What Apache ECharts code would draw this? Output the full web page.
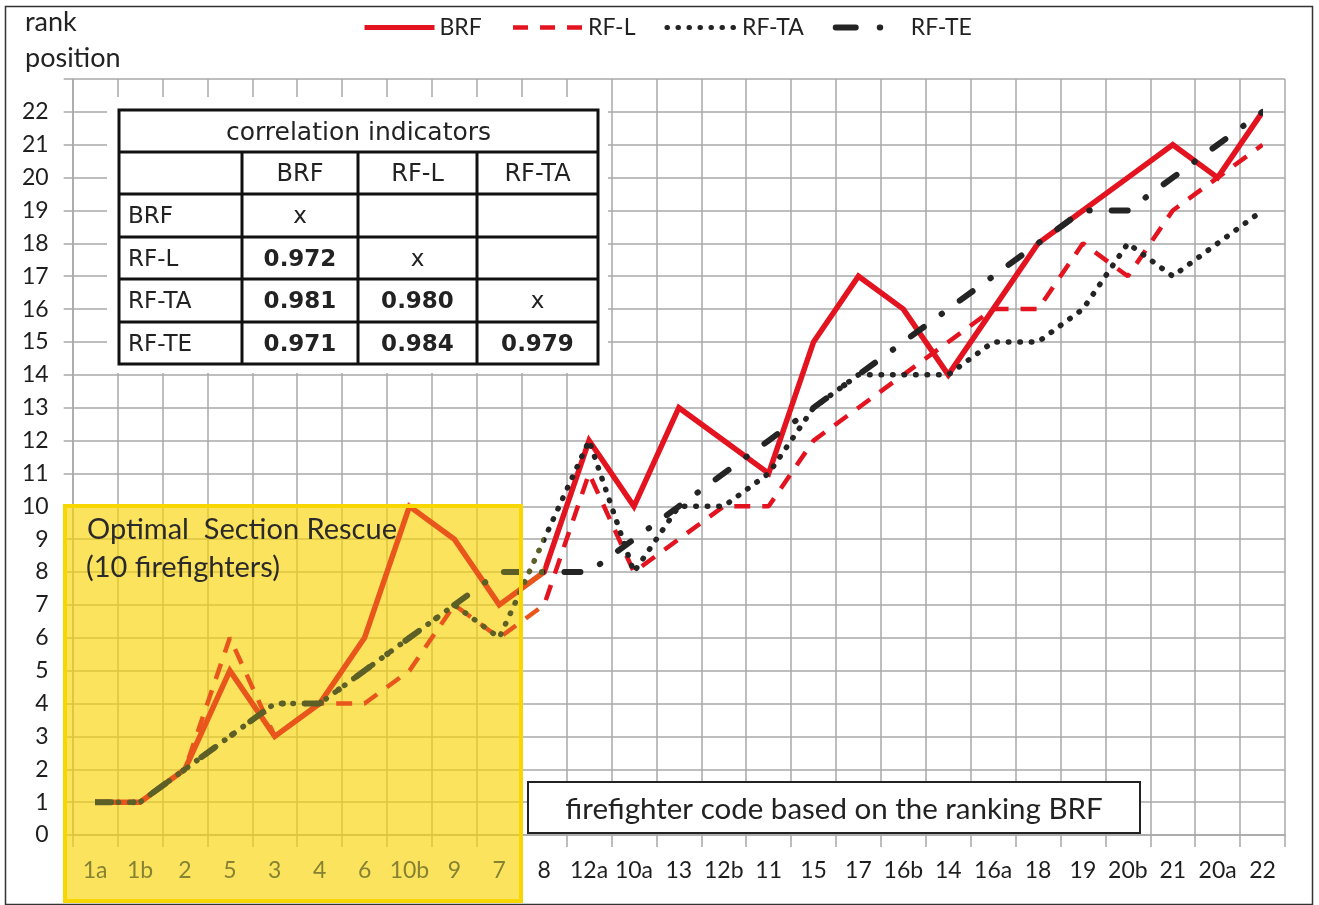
<!DOCTYPE html>
<html>
<head>
<meta charset="utf-8">
<script src="https://cdn.jsdelivr.net/npm/echarts@6/dist/echarts.min.js"></script>
<style>
html,body{margin:0;padding:0;background:#fff;}
#c{width:1319px;height:905px;}
</style>
</head>
<body>
<div id="c"></div>
<script>
// ---- data ----
const categories = ['1a','1b','2','5','3','4','6','10b','9','7','8','12a','10a','13','12b','11','15','17','16b','14','16a','18','19','20b','21','20a','22'];
const brf  = [1,1,2,5,3,4,6,10,9,7,8,12,10,13,12,11,15,17,16,14,16,18,19,20,21,20,22];
const rfL  = [1,1,2,6,3,4,4,5,7,6,7,11,8,9,10,10,12,13,14,15,16,16,18,17,19,20,21];
const rfTA = [1,1,2,3,4,4,5,6,7,6,9,12,8,10,10,11,13,14,14,14,15,15,16,18,17,18,19];
const rfTE = [1,1,2,3,4,4,5,6,7,8,8,8,9,10,11,12,13,14,15,16,17,18,19,19,20,21,22];
const seriesNames = ['BRF','RF-L','RF-TA','RF-TE'];
const yMin = 0, yMax = 23, yStep = 1;
const optimalCount = 10; // first 10 firefighters highlighted
const tableTitle = 'correlation indicators';
const tableHeader = ['', 'BRF', 'RF-L', 'RF-TA'];
const tableRows = [
  ['BRF',   'x',     '',      ''],
  ['RF-L',  '0.972', 'x',     ''],
  ['RF-TA', '0.981', '0.980', 'x'],
  ['RF-TE', '0.971', '0.984', '0.979']
];
const yAxisTitle = ['rank', 'position'];
const xAxisTitle = 'firefighter code based on the ranking BRF';
const boxTitle = ['Optimal  Section Rescue', '(10 firefighters)'];

// ---- styles ----
const FONT = 'Lato';
const TFONT = 'DejaVu Sans';
const RED = '#e3131f', ORANGE = '#e9561c', BLACK = '#242424', OLIVE = '#5c5f26';
const GRID = '#a8a8a8';

const chart = echarts.init(document.getElementById('c'), null, {renderer:'canvas'});

function vm(idx, inside, outside){
  return {type:'piecewise', show:false, seriesIndex:idx, dimension:0,
    pieces:[{gte:0, lt: optimalCount - 0.5, color: inside},{gte: optimalCount - 0.5, lte: categories.length - 1, color: outside}]};
}

// table graphic
const colX = [119, 242, 358, 477, 598];
const rowY = [110, 152, 194, 237, 279, 322, 364];
const tableEls = [];
tableEls.push({type:'rect', shape:{x:107,y:97,width:501,height:276}, style:{fill:'#fff'}, z:9});
tableEls.push({type:'rect', shape:{x:colX[0],y:rowY[0],width:colX[4]-colX[0],height:rowY[6]-rowY[0]}, style:{fill:'#fff',stroke:'#111',lineWidth:3}, z:10});
for (let r=1;r<rowY.length-1;r++) tableEls.push({type:'line', shape:{x1:colX[0],y1:rowY[r],x2:colX[4],y2:rowY[r]}, style:{stroke:'#111',lineWidth:3}, z:10});
for (let c=1;c<colX.length-1;c++) tableEls.push({type:'line', shape:{x1:colX[c],y1:rowY[1],x2:colX[c],y2:rowY[6]}, style:{stroke:'#111',lineWidth:3}, z:10});
tableEls.push({type:'text', x:(colX[0]+colX[4])/2, y:(rowY[0]+rowY[1])/2+2, style:{text:tableTitle, font:'25px '+TFONT, fill:'#222', align:'center', verticalAlign:'middle'}, z:11});
tableHeader.forEach((t,c)=>{ if(t) tableEls.push({type:'text', x:(colX[c]+colX[c+1])/2, y:(rowY[1]+rowY[2])/2+2, style:{text:t, font:'24px '+TFONT, fill:'#222', align:'center', verticalAlign:'middle'}, z:11}); });
tableRows.forEach((row,r)=>{
  row.forEach((t,c)=>{
    if(!t) return;
    const yc = (rowY[r+2]+rowY[r+3])/2+2;
    if(c===0) tableEls.push({type:'text', x:colX[0]+9, y:yc, style:{text:t, font:'23px '+TFONT, fill:'#222', align:'left', verticalAlign:'middle'}, z:11});
    else tableEls.push({type:'text', x:(colX[c]+colX[c+1])/2, y:yc, style:{text:t, font:(t==='x'?'':'bold ')+'23px '+TFONT, fill:'#222', align:'center', verticalAlign:'middle'}, z:11});
  });
});

const hiddenSym = {color:'rgba(0,0,0,0)', opacity:0, borderWidth:0};
const option = {
  animation:false,
  backgroundColor:'#fff',
  textStyle:{fontFamily:FONT},
  grid:{left:72.7, right:34, top:79, bottom:70, containLabel:false},
  legend:{
    top:11, left:357, itemWidth:70, itemHeight:20, itemGap:29,
    textStyle:{fontSize:23, color:'#222', fontFamily:FONT},
    data:[
      {name:'BRF', lineStyle:{color:RED,width:5,type:'solid'}, itemStyle:hiddenSym},
      {name:'RF-L', lineStyle:{color:RED,width:4.5,type:[15,12]}, itemStyle:hiddenSym},
      {name:'RF-TA', lineStyle:{color:BLACK,width:5,type:[0.5,10.5],cap:'round'}, itemStyle:hiddenSym},
      {name:'RF-TE', lineStyle:{color:BLACK,width:6,type:[20,24,0.5,40],cap:'round'}, itemStyle:hiddenSym}
    ]
  },
  visualMap:[
    vm(0, ORANGE, RED), vm(1, ORANGE, RED), vm(2, OLIVE, BLACK), vm(3, OLIVE, BLACK)
  ],
  xAxis:[{
    type:'category', data:categories, boundaryGap:true, z:0,
    axisLine:{show:true, lineStyle:{color:GRID, width:1.5}},
    axisTick:{show:true, interval:0, length:12, lineStyle:{color:GRID, width:1.5}},
    axisLabel:{show:false},
    splitLine:{show:true, interval:0, lineStyle:{color:GRID, width:1.5}}
  },{
    type:'category', data:categories, boundaryGap:true, position:'bottom', z:6,
    axisLine:{show:false}, axisTick:{show:false}, splitLine:{show:false},
    axisLabel:{show:true, interval:0, margin:24, fontSize:23, fontFamily:FONT,
      color:function(v, i){ return categories.indexOf(v) < optimalCount ? '#858232' : '#1e1e1e'; }}
  }],
  yAxis:{
    type:'value', min:yMin, max:yMax, interval:yStep, z:0,
    axisLine:{show:true, lineStyle:{color:GRID, width:1.5}},
    axisTick:{show:true, length:9, lineStyle:{color:GRID, width:1.5}},
    axisLabel:{margin:24, fontSize:23, color:'#1e1e1e', fontFamily:FONT,
      formatter:function(v){ return v===yMax ? '' : String(v); }},
    splitLine:{show:true, lineStyle:{color:GRID, width:1.5}}
  },
  series:[
    {name:'BRF', type:'line', data:brf, symbol:'none', z:3,
      lineStyle:{width:5.5, join:'miter'}},
    {name:'RF-L', type:'line', data:rfL, symbol:'none', z:3,
      lineStyle:{width:4.5, type:[16,12]}},
    {name:'RF-TA', type:'line', data:rfTA, symbol:'none', z:3,
      lineStyle:{width:5.5, type:[0.5,11], cap:'round'}},
    {name:'RF-TE', type:'line', data:rfTE, symbol:'none', z:3,
      lineStyle:{width:6, type:[16,22,0.5,22], cap:'round'}}
  ],
  graphic:[
    {type:'rect', shape:{x:5.5,y:6.5,width:1307,height:898}, style:{fill:'none', stroke:'#333', lineWidth:1.5}, z:20, silent:true},
    {type:'text', x:25, y:22, style:{text:yAxisTitle[0], font:'27px '+FONT, fill:'#222', verticalAlign:'middle'}, z:20},
    {type:'text', x:25, y:58, style:{text:yAxisTitle[1], font:'27px '+FONT, fill:'#222', verticalAlign:'middle'}, z:20},
    {type:'rect', shape:{x:65,y:506,width:456,height:395}, style:{fill:'rgba(250,212,7,0.65)'}, z:1, silent:true},
    {type:'rect', shape:{x:65,y:506,width:456,height:395}, style:{fill:'none', stroke:'#f8d600', lineWidth:4}, z:12, silent:true},
    {type:'text', x:87, y:530, style:{text:boxTitle[0], font:'29px '+FONT, fill:'#2a2a2a', verticalAlign:'middle'}, z:13},
    {type:'text', x:86, y:568, style:{text:boxTitle[1], font:'29px '+FONT, fill:'#2a2a2a', verticalAlign:'middle'}, z:13},
    {type:'rect', shape:{x:528,y:782,width:612,height:51}, style:{fill:'#fff', stroke:'#222', lineWidth:2}, z:12},
    {type:'text', x:834, y:809, style:{text:xAxisTitle, font:'29.5px '+FONT, fill:'#222', align:'center', verticalAlign:'middle'}, z:13}
  ].concat(tableEls)
};
chart.setOption(option);
</script>
</body>
</html>
